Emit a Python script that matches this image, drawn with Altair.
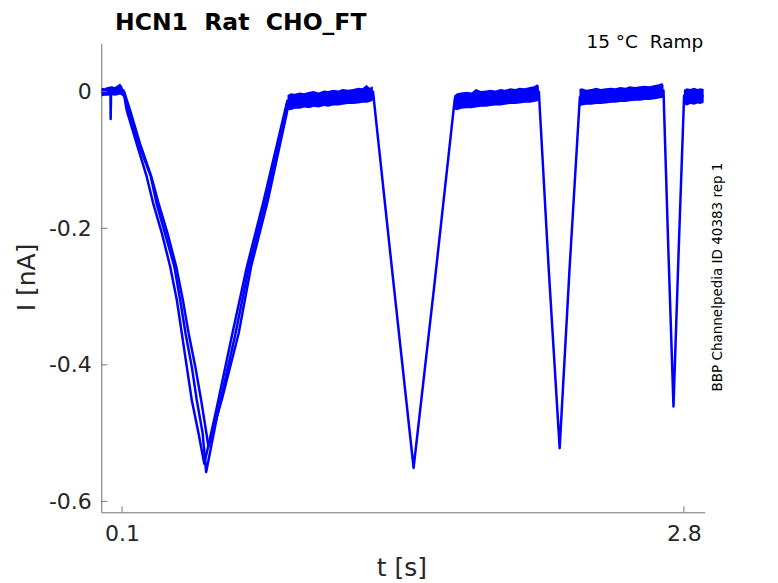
import altair as alt
import pandas as pd

# ---- data ----
# trace B: full sweep (t in s, I in nA)
tB = [0.000, 0.020, 0.044, 0.045, 0.047, 0.070, 0.090, 0.106,
      0.130, 0.178, 0.238, 0.265, 0.306, 0.351, 0.379, 0.405, 0.435, 0.459, 0.487, 0.504,
      0.560, 0.645, 0.710, 0.790, 0.850, 0.900,
      1.000, 1.100, 1.200, 1.306,
      1.400, 1.501, 1.600, 1.699,
      1.800, 1.900, 2.000, 2.103,
      2.150, 2.203, 2.250, 2.300,
      2.400, 2.500, 2.600, 2.702,
      2.725, 2.750, 2.775, 2.801, 2.850, 2.895]
iB = [0.000, 0.001, 0.001, -0.040, 0.002, 0.002, 0.004, 0.000,
      -0.027, -0.076, -0.124, -0.163, -0.207, -0.256, -0.305, -0.354, -0.403, -0.452, -0.500, -0.557,
      -0.470, -0.354, -0.256, -0.160, -0.080, -0.012,
      -0.010, -0.007, -0.004, 0.000,
      -0.268, -0.551, -0.285, -0.010,
      -0.008, -0.006, -0.004, 0.000,
      -0.258, -0.522, -0.262, -0.008,
      -0.005, -0.002, 0.000, 0.002,
      -0.228, -0.461, -0.232, -0.006, -0.007, -0.007]

# trace A: outer repetition on the first ramp
tA = [0.100, 0.106, 0.122, 0.170, 0.218, 0.249, 0.291, 0.331, 0.363, 0.387, 0.411, 0.435, 0.467, 0.495,
      0.550, 0.630, 0.700, 0.780, 0.895]
iA = [0.003, 0.002, -0.027, -0.076, -0.124, -0.163, -0.207, -0.256, -0.305, -0.354, -0.403, -0.452, -0.500, -0.545,
      -0.470, -0.354, -0.256, -0.160, -0.012]

# trace C: inner repetition on the first ramp
tC = [0.100, 0.110, 0.138, 0.186, 0.240, 0.275, 0.318, 0.360, 0.392, 0.420, 0.452, 0.480, 0.505, 0.515,
      0.580, 0.660, 0.720, 0.800, 0.905]
iC = [0.002, 0.000, -0.027, -0.076, -0.124, -0.163, -0.207, -0.256, -0.305, -0.354, -0.403, -0.452, -0.500, -0.520,
      -0.450, -0.354, -0.256, -0.160, -0.012]

# noise envelope on the flat parts: segment, t, low, high
band_seg = ([0] * 9) + ([1] * 20) + ([2] * 20) + ([3] * 20) + ([4] * 7)
band_t = [0.000, 0.015, 0.030, 0.050, 0.065, 0.080, 0.090, 0.100, 0.106,
          0.895, 0.910, 0.930, 0.955, 0.975, 1.000, 1.020, 1.045, 1.070, 1.090,
          1.115, 1.140, 1.160, 1.185, 1.210, 1.235, 1.255, 1.275, 1.290, 1.305,
          1.695, 1.710, 1.730, 1.755, 1.780, 1.800, 1.825, 1.850, 1.870, 1.895,
          1.920, 1.940, 1.965, 1.990, 2.010, 2.035, 2.060, 2.080, 2.095, 2.103,
          2.298, 2.310, 2.330, 2.355, 2.380, 2.400, 2.425, 2.450, 2.470, 2.495,
          2.520, 2.540, 2.565, 2.590, 2.610, 2.635, 2.660, 2.680, 2.695, 2.702,
          2.800, 2.815, 2.830, 2.850, 2.865, 2.880, 2.895]
band_lo = [-0.007, -0.006, -0.006, -0.005, -0.006, -0.005, -0.004, -0.006, -0.008,
           -0.026, -0.027, -0.025, -0.025, -0.023, -0.024, -0.022, -0.023, -0.021, -0.022,
           -0.020, -0.020, -0.019, -0.018, -0.018, -0.017, -0.016, -0.016, -0.015, -0.013,
           -0.026, -0.027, -0.025, -0.024, -0.024, -0.023, -0.022, -0.022, -0.021, -0.020,
           -0.020, -0.019, -0.018, -0.018, -0.017, -0.016, -0.016, -0.015, -0.014, -0.013,
           -0.021, -0.020, -0.019, -0.019, -0.018, -0.018, -0.017, -0.016, -0.016, -0.015,
           -0.015, -0.014, -0.013, -0.013, -0.012, -0.012, -0.011, -0.010, -0.009, -0.008,
           -0.019, -0.020, -0.018, -0.019, -0.017, -0.018, -0.016]
band_hi = [0.006, 0.005, 0.007, 0.008, 0.007, 0.010, 0.012, 0.008, 0.003,
           -0.005, -0.002, -0.003, -0.001, -0.002, 0.000, 0.001, -0.001, 0.002, 0.001,
           0.003, 0.002, 0.004, 0.003, 0.004, 0.006, 0.005, 0.010, 0.006, 0.008,
           -0.006, -0.002, -0.001, 0.000, -0.001, 0.004, 0.001, 0.002, 0.003, 0.002,
           0.004, 0.003, 0.005, 0.004, 0.006, 0.005, 0.007, 0.008, 0.011, 0.009,
           0.004, 0.005, 0.003, 0.004, 0.006, 0.004, 0.005, 0.006, 0.005, 0.007,
           0.006, 0.008, 0.007, 0.008, 0.009, 0.008, 0.010, 0.011, 0.013, 0.010,
           0.003, 0.005, 0.004, 0.006, 0.004, 0.005, 0.004]

x_ticks = [0.1, 2.8]
y_ticks = [0.0, -0.2, -0.4, -0.6]
x_domain = [0.0, 2.9]
y_domain = [-0.616, 0.071]

NB = "\u00a0"
title_text = "HCN1 " + NB + "Rat " + NB + "CHO_FT"
cond_text = "15 °C " + NB + "Ramp"
id_text = "BBP Channelpedia ID 40383 rep 1"
x_title = "t [s]"
y_title = "I [nA]"

# ---- tables ----
rows = []
for name, ts, vs in (("B", tB, iB), ("A", tA, iA), ("C", tC, iC)):
    for k, (t, v) in enumerate(zip(ts, vs)):
        rows.append({"trace": name, "k": k, "t": t, "I": v})
lines_df = pd.DataFrame(rows)
band_df = pd.DataFrame({"seg": band_seg, "t": band_t, "lo": band_lo, "hi": band_hi})
xt_df = pd.DataFrame({"v": x_ticks})
yt_df = pd.DataFrame({"v": y_ticks})
one = pd.DataFrame({"a": [0]})

W, H = 603.4, 469
BLUE = "#0000ff"
AXC = "#737373"
LBL = "#262626"
FONT = "DejaVu Sans"

xs = alt.Scale(domain=x_domain, nice=False, zero=False)
ys = alt.Scale(domain=y_domain, nice=False, zero=False)

x_axis = alt.Axis(values=x_ticks, format=".1f", title="", grid=False, tickSize=0,
                  labelPadding=11, labelFontSize=22, labelFont=FONT, labelColor=LBL,
                  domainColor=AXC, domainWidth=1, labelFlush=False)
y_axis = alt.Axis(values=y_ticks, title="", grid=False, tickSize=0,
                  labelExpr="datum.value == 0 ? '0' : '-' + format(abs(datum.value), '.1f')",
                  labelPadding=10, labelFontSize=22, labelFont=FONT, labelColor=LBL,
                  domainColor=AXC, domainWidth=1, labelFlush=False)

band = alt.Chart(band_df).mark_area(color=BLUE, clip=True, interpolate="linear").encode(
    x=alt.X("t:Q", scale=xs, axis=x_axis),
    y=alt.Y("lo:Q", scale=ys, axis=y_axis),
    y2="hi:Q",
    detail="seg:N",
)

lines = alt.Chart(lines_df).mark_line(color=BLUE, strokeWidth=2.5, clip=True, strokeJoin="round").encode(
    x=alt.X("t:Q", scale=xs),
    y=alt.Y("I:Q", scale=ys),
    detail="trace:N",
    order="k:Q",
)

yticks = alt.Chart(yt_df).mark_rule(color=AXC, strokeWidth=1).encode(
    y=alt.Y("v:Q", scale=ys), x=alt.value(0), x2=alt.value(6))
xticks = alt.Chart(xt_df).mark_rule(color=AXC, strokeWidth=1).encode(
    x=alt.X("v:Q", scale=xs), y=alt.value(H), y2=alt.value(H - 6))

def label(text, x, y, size, weight="normal", align="center", angle=0, color="black"):
    return alt.Chart(one).mark_text(text=text, font=FONT, fontSize=size, fontWeight=weight,
                                    align=align, baseline="alphabetic", angle=angle,
                                    color=color).encode(x=alt.value(x), y=alt.value(y))

t1 = label(title_text, 13.7, -13.5, 23.5, weight="bold", align="left")
t2 = label(cond_text, 602, 4.4, 18.5, align="right")
t3 = label(id_text, 620.4, 233.7, 13.5, angle=270)
t4 = label(y_title, -66.4, 234.2, 25, angle=270, color=LBL)
t5 = label(x_title, 300.7, 532.7, 25, color=LBL)

chart = alt.layer(band, lines, yticks, xticks, t1, t2, t3, t4, t5).properties(
    width=W, height=H,
    autosize=alt.AutoSizeParams(type="none"),
    padding={"left": 93.3, "top": 35.3, "right": 60, "bottom": 72},
).configure_view(strokeWidth=0)

chart.save("out.html", embed_options={"renderer": "svg", "actions": False})
